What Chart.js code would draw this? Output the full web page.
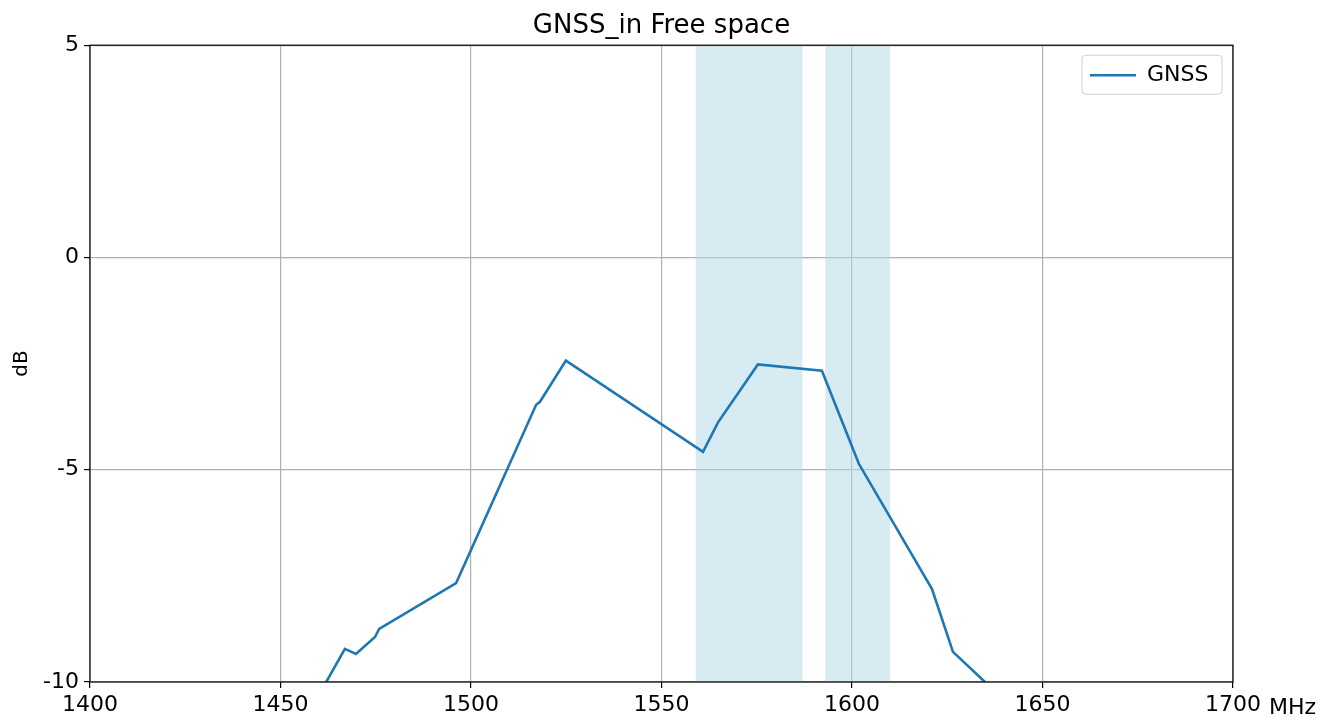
<!DOCTYPE html>
<html>
<head>
<meta charset="utf-8">
<script src="https://cdn.jsdelivr.net/npm/chart.js@4/dist/chart.umd.min.js"></script>
<style>
  html, body { margin: 0; padding: 0; background: #fff; }
  #wrap { width: 1328px; height: 724px; }
</style>
</head>
<body>
<div id="wrap"><canvas id="grafica"></canvas></div>
<script>
// datos
const freqMHz = [1462, 1466.9, 1469.8, 1474.8, 1475.9, 1496.1, 1517.1, 1518.1, 1524.9, 1560.9, 1564.8, 1575.3, 1592.1, 1601.8, 1621.0, 1626.5, 1634.9];
const gnssDb = [-10, -9.22, -9.34, -8.94, -8.75, -7.67, -3.47, -3.40, -2.43, -4.58, -3.89, -2.52, -2.67, -4.86, -7.81, -9.29, -10];
// bandas sombreadas (inicio, fin) en MHz
const bandStart = [1559, 1593];
const bandEnd = [1587, 1610];
const xTicks = [1400, 1450, 1500, 1550, 1600, 1650, 1700];
const yTicks = [-10, -5, 0, 5];

const fuente = "'DejaVu Sans', sans-serif";

// dibuja las bandas detrás de la línea
const bandas = {
  id: "bandas",
  beforeDatasetsDraw(chart) {
    const ctx = chart.ctx;
    const x = chart.scales.x;
    const area = chart.chartArea;
    ctx.save();
    ctx.fillStyle = "rgba(173, 216, 230, 0.5)";
    for (let i = 0; i < bandStart.length; i++) {
      const x0 = x.getPixelForValue(bandStart[i]);
      const x1 = x.getPixelForValue(bandEnd[i]);
      ctx.fillRect(x0, area.top, x1 - x0, area.bottom - area.top);
    }
    ctx.restore();
  }
};

// mueve la leyenda arriba a la derecha dentro del área
const leyendaArriba = {
  id: "leyendaArriba",
  afterLayout(chart) {
    const lg = chart.legend;
    const a = chart.chartArea;
    if (!lg) return;
    const w = lg.width, h = lg.height;
    lg.left = a.right - 153;
    lg.top = a.top + 9;
    lg.right = lg.left + w;
    lg.bottom = lg.top + h;
  }
};

// marco negro, unidad del eje x y caja de la leyenda
const extras = {
  id: "extras",
  afterDraw(chart) {
    const ctx = chart.ctx;
    const a = chart.chartArea;
    ctx.save();
    ctx.strokeStyle = "#000";
    ctx.lineWidth = 1.2;
    ctx.strokeRect(a.left, a.top, a.right - a.left, a.bottom - a.top);
    ctx.fillStyle = "#000";
    ctx.font = "22px " + fuente;
    ctx.textBaseline = "middle";
    ctx.textAlign = "left";
    ctx.fillText("MHz", a.right + 36, a.bottom + 26);
    // caja de la leyenda
    ctx.strokeStyle = "#d0d0d0";
    ctx.lineWidth = 1;
    ctx.beginPath();
    ctx.roundRect(a.right - 151, a.top + 10, 140, 39, 4);
    ctx.stroke();
    ctx.restore();
  }
};

const ctx = document.getElementById("grafica").getContext("2d");
const grafica = new Chart(ctx, {
  type: "line",
  data: {
    datasets: [
      {
        label: "GNSS",
        data: freqMHz.map((f, i) => ({ x: f, y: gnssDb[i] })),
        borderColor: "#1f77b4",
        backgroundColor: "#1f77b4",
        borderWidth: 2.6,
        pointRadius: 0,
        tension: 0,
        fill: false,
      },
    ],
  },
  options: {
    responsive: true,
    maintainAspectRatio: false,
    animation: false,
    layout: { padding: { left: 0, right: 5, top: 0, bottom: 0 } },
    scales: {
      x: {
        type: "linear",
        min: 1400,
        max: 1700,
        afterBuildTicks: (s) => { s.ticks = xTicks.map((v) => ({ value: v })); },
        afterFit: (s) => { s.height = 42; },
        border: { display: false },
        grid: { color: "#b0b0b0", lineWidth: 1.2, drawTicks: true, tickLength: 6, tickColor: "#000", tickWidth: 1.2 },
        ticks: { color: "#000", font: { family: fuente, size: 22 }, padding: 4, maxRotation: 0, callback: (v) => String(v) },
      },
      y: {
        type: "linear",
        min: -10,
        max: 5,
        afterBuildTicks: (s) => { s.ticks = yTicks.map((v) => ({ value: v })); },
        afterFit: (s) => { s.width = 90; },
        border: { display: false },
        title: { display: true, text: "dB", color: "#000", font: { family: fuente, size: 20 }, padding: { top: 10, bottom: 0 } },
        grid: { color: "#b0b0b0", lineWidth: 1.2, drawTicks: true, tickLength: 6, tickColor: "#000", tickWidth: 1.2 },
        ticks: { color: "#000", font: { family: fuente, size: 22 }, padding: 5, callback: (v) => String(v) },
      },
      // eje vacío a la derecha para dejar sitio a "MHz" y centrar el título
      margen: {
        type: "linear",
        position: "right",
        display: true,
        afterFit: (s) => { s.width = 90; },
        border: { display: false },
        grid: { display: false },
        ticks: { display: false },
      },
    },
    plugins: {
      title: {
        display: true,
        text: "GNSS_in Free space",
        color: "#000",
        font: { family: fuente, size: 26, weight: "normal" },
        padding: { top: 11, bottom: 3 },
      },
      legend: {
        display: true,
        position: "chartArea",
        align: "start",
        labels: {
          color: "#000",
          font: { family: fuente, size: 22 },
          usePointStyle: true,
          pointStyle: "line",
          pointStyleWidth: 46,
          padding: 10,
        },
      },
      tooltip: { enabled: false },
    },
  },
  plugins: [bandas, leyendaArriba, extras],
});
</script>
</body>
</html>
